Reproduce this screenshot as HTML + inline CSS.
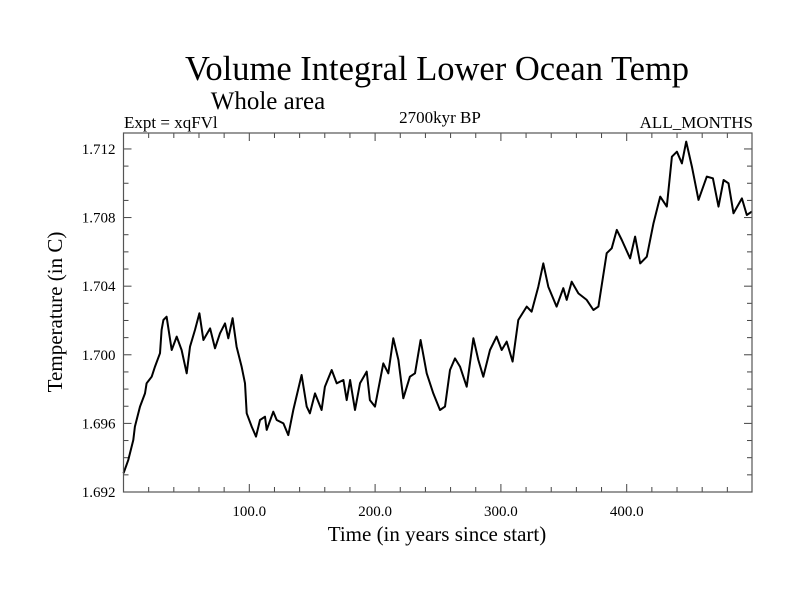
<!DOCTYPE html>
<html><head><meta charset="utf-8"><style>
html,body{margin:0;padding:0;background:#fff;}
svg text{font-family:"Liberation Serif",serif;fill:#000;}
</style></head><body>
<svg id="chart" width="800" height="600" viewBox="0 0 800 600" xmlns="http://www.w3.org/2000/svg">
<text x="437" y="80" font-size="34.5" text-anchor="middle">Volume Integral Lower Ocean Temp</text>
<text x="268" y="109" font-size="25" text-anchor="middle">Whole area</text>
<text x="124" y="128" font-size="17">Expt = xqFVl</text>
<text x="440" y="123" font-size="17" text-anchor="middle">2700kyr BP</text>
<text x="753" y="128" font-size="17" text-anchor="end">ALL_MONTHS</text>
<g id="axes"></g>
<path id="line" fill="none" stroke="#000" stroke-width="2" stroke-linejoin="round"/>
<rect x="123.5" y="133" width="628.5" height="359" fill="none" stroke="#555" stroke-width="1.2"/>
<text x="437" y="541" font-size="21" text-anchor="middle">Time (in years since start)</text>
<text x="0" y="0" font-size="21" text-anchor="middle" transform="translate(62,312) rotate(-90)">Temperature (in C)</text>
</svg>
<script>
const years=[0,3.8,7.8,9.1,13.1,17.1,18.4,22.4,25.0,29.0,30.3,31.7,34.3,38.3,42.3,46.2,50.2,52.9,56.8,60.3,63.5,68.8,72.7,76.7,80.7,83.3,86.7,89.9,93.9,96.6,97.9,101.9,105.3,108.5,112.5,113.8,119.1,121.8,127.1,131.0,135.0,141.6,145.6,148.2,152.2,157.5,160.1,165.5,169.5,174.8,177.4,180.1,184.0,188.0,193.3,195.9,199.9,206.5,210.5,214.5,218.5,222.4,227.7,231.7,236.2,241.0,246.3,251.6,255.6,259.5,263.5,267.5,272.8,278.1,282.0,286.0,291.3,296.6,300.6,304.6,309.3,313.8,320.5,324.4,329.7,333.7,337.7,344.3,349.6,352.3,356.3,361.6,368.2,373.5,377.5,384.1,388.1,392.1,396.1,402.7,406.7,410.7,416.0,421.3,426.6,431.9,435.9,439.9,443.9,447.3,451.8,457.1,463.7,468.5,473.0,477.0,480.9,484.9,491.6,495.5,499.5];
const temps=[1.69309,1.69387,1.69503,1.69581,1.69698,1.69775,1.69834,1.69872,1.69931,1.70009,1.70145,1.70203,1.70222,1.70028,1.70106,1.70028,1.69892,1.70047,1.70145,1.70242,1.70086,1.70154,1.70038,1.70125,1.70183,1.70096,1.70213,1.70047,1.69931,1.69834,1.69659,1.69581,1.69523,1.6962,1.69639,1.69562,1.69668,1.6962,1.696,1.69532,1.69678,1.69882,1.69698,1.69659,1.69775,1.69678,1.69814,1.69911,1.69834,1.69853,1.69736,1.69853,1.69678,1.69834,1.69902,1.69736,1.69698,1.6995,1.69892,1.70096,1.6997,1.69746,1.69872,1.69892,1.70086,1.69892,1.69775,1.69678,1.69698,1.69911,1.69979,1.69931,1.69814,1.70096,1.6997,1.69872,1.70028,1.70106,1.70028,1.70077,1.6996,1.70203,1.70281,1.70251,1.70397,1.70533,1.70397,1.70281,1.70388,1.7032,1.70426,1.70358,1.7032,1.70261,1.70281,1.70592,1.70621,1.70728,1.70669,1.70562,1.70689,1.70533,1.70572,1.70767,1.70922,1.70864,1.71155,1.71184,1.71116,1.71243,1.71097,1.70903,1.71039,1.71029,1.70864,1.71019,1.71,1.70825,1.70912,1.70815,1.70835];
const yTicks=[1.692,1.696,1.700,1.704,1.708,1.712];
const xTicks=[100,200,300,400];
const xTickLabels=["100.0","200.0","300.0","400.0"];
const X0=123.5,X1=752,Y0=492,Y1=133;
const xMin=0,xMax=499.6,yMin=1.692,yMax=1.71293;
function sx(v){return X0+(v-xMin)/(xMax-xMin)*(X1-X0);}
function sy(v){return Y0-(v-yMin)/(yMax-yMin)*(Y0-Y1);}
const ns="http://www.w3.org/2000/svg";
const axes=document.getElementById('axes');
function ln(x1,y1,x2,y2,name){const l=document.createElementNS(ns,'line');l.setAttribute('x1',x1);l.setAttribute('y1',y1);l.setAttribute('x2',x2);l.setAttribute('y2',y2);l.setAttribute('stroke','#444');l.setAttribute('stroke-width','1');


axes.appendChild(l);}
function tx(x,y,s,anchor,name){const t=document.createElementNS(ns,'text');t.setAttribute('x',x);t.setAttribute('y',y);t.setAttribute('font-size','15');t.setAttribute('text-anchor',anchor);t.textContent=s;


axes.appendChild(t);}
for(let v=1.692;v<=1.7125;v+=0.001){const y=sy(v);const major=Math.abs(((v-1.692)/0.004)-Math.round((v-1.692)/0.004))<0.01;const L=major?8:5;ln(X0,y,X0+L,y,'y-tick');ln(X1,y,X1-L,y,'y-tick-right');}
yTicks.forEach(v=>tx(X0-8,sy(v)+5,v.toFixed(3),'end','y-tick-label'));
for(let v=20;v<xMax;v+=20){const x=sx(v);const major=v%100===0;const L=major?8:5;ln(x,Y0,x,Y0-L,'x-tick');ln(x,Y1,x,Y1+L,'x-tick-top');}
xTicks.forEach((v,i)=>tx(sx(v),516,xTickLabels[i],'middle','x-tick-label'));
let d='';years.forEach((yr,i)=>{d+=(i?'L':'M')+sx(yr).toFixed(1)+','+sy(temps[i]).toFixed(1);});
document.getElementById('line').setAttribute('d',d);
</script>
</body></html>
